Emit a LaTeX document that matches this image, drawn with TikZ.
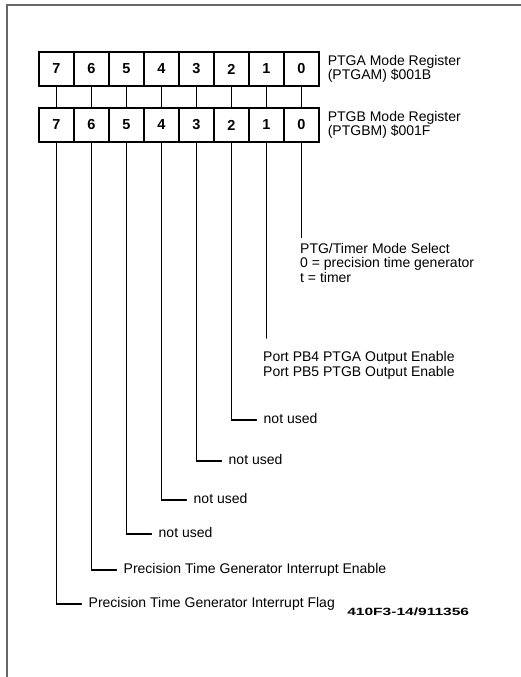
\documentclass[tikz,border=0pt]{standalone}
\usepackage{fontspec}
\setmainfont{Liberation Sans}
\usetikzlibrary{positioning}

\newcommand\figfont{\fontsize{14}{14.5}\selectfont}
\tikzset{
  bitcell/.style={draw,line width=1.2pt,minimum width=35pt,minimum height=34pt,inner sep=0pt,font=\fontsize{14.5}{15}\selectfont\bfseries},
  lead/.style={line width=1.2pt},
  reglbl/.style={align=left,inner sep=0pt,font=\fontsize{14}{12}\selectfont},
  desc/.style={align=left,inner sep=0pt,anchor=base west},
  bitlbl/.style={anchor=west,inner xsep=7pt,inner ysep=0pt,text height=0.72em,text depth=0pt}
}

\begin{document}
\begin{tikzpicture}[x=1pt,y=-1pt,font=\figfont,line cap=round]
\useasboundingbox (0,0) rectangle (521,677);
\draw[black!60,line width=1.5pt] (521,5) -- (7,5) -- (7,677);
% the two mode registers
\foreach \b in {0,...,7}{
  \node[bitcell] (a\b) at (301.5-35*\b,69) {\b};
  \node[bitcell] (b\b) at (301.5-35*\b,125) {\b};
  \draw[lead] (a\b) -- (b\b);
}
\node[reglbl,right=8pt of a0] (regA) {PTGA Mode Register\\(PTGAM) \$001B};
\node[reglbl,right=8pt of b0] (regB) {PTGB Mode Register\\(PTGBM) \$001F};
% bit 0 and bit 1 (base = last line)
\node[desc] (sel) at (300,282) {PTG/Timer Mode Select\\0 = precision time generator\\t = timer};
\draw[lead,shorten >=5pt] (b0) -- (b0 |- sel.north);
\node[desc] (pb) at (263,376) {Port PB4 PTGA Output Enable\\Port PB5 PTGB Output Enable};
\draw[lead,shorten >=13pt] (b1) -- (b1 |- pb.north);
% bits 2 to 7
\foreach \b/\y/\txt in {2/420/not used,3/461/not used,4/500/not used,5/534/not used,
    6/570/Precision Time Generator Interrupt Enable,7/604/Precision Time Generator Interrupt Flag}{
  \node[bitlbl] (use\b) at (301.5-35*\b+25,\y) {\txt};
  \draw[lead] (b\b) |- (use\b);
}
\node[anchor=west,inner sep=0pt,xscale=1.48,font=\fontsize{10.5}{11}\selectfont\bfseries] (figid) at (347,612) {410F3-14/911356};
\end{tikzpicture}
\end{document}
